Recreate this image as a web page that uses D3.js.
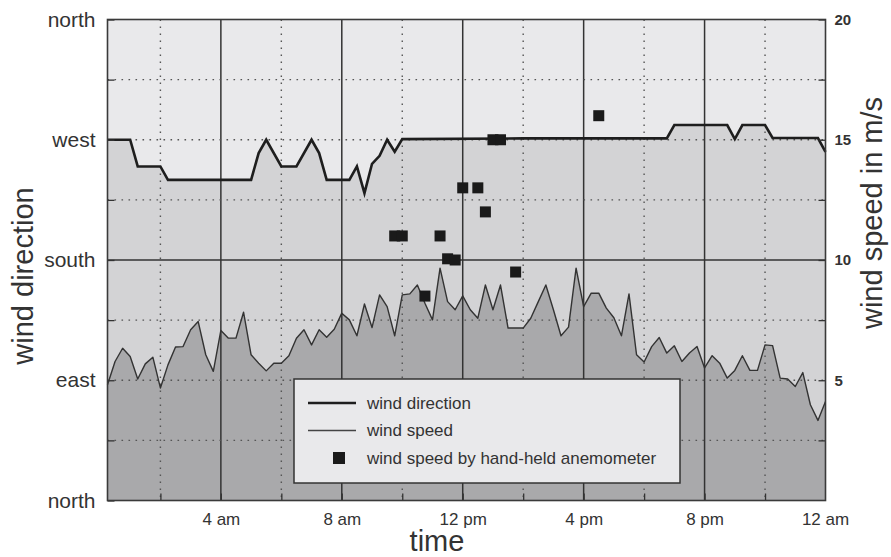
<!DOCTYPE html>
<html>
<head>
<meta charset="utf-8">
<script src="https://cdn.jsdelivr.net/npm/d3@7"></script>
<style>
  body { margin: 0; background: #fff; }
  text { font-family: "Liberation Sans", Arial, sans-serif; fill: #333; }
</style>
</head>
<body>
<div id="chart"></div>
<script>
// wind speed, one reading every 15 minutes starting 00:15 (m/s)
const speedStart = 0.25;
const speedStep = 0.25;
const speedValues = [
  4.81, 5.78, 6.33, 5.99, 5.05, 5.68, 5.96, 4.68, 5.64, 6.38, 6.40, 7.10,
  7.44, 6.06, 5.37, 7.07, 6.75, 6.75, 7.83, 6.06, 5.71, 5.39, 5.71, 5.71,
  6.02, 6.75, 7.10, 6.47, 7.10, 6.79, 7.12, 7.79, 7.51, 6.85, 8.17, 7.19,
  8.55, 8.06, 6.85, 8.55, 8.59, 8.96, 8.20, 7.51, 9.66, 8.27, 7.93, 8.51,
  7.93, 7.58, 8.96, 7.93, 8.96, 7.17, 7.17, 7.17, 7.58, 8.27, 8.96, 7.93,
  6.85, 7.21, 9.66, 8.06, 8.62, 8.62, 8.00, 7.60, 6.85, 8.59, 6.06, 5.76,
  6.40, 6.78, 6.13, 6.43, 5.78, 6.13, 6.40, 5.51, 6.02, 5.71, 5.09, 5.41,
  6.02, 5.41, 5.41, 6.47, 6.44, 5.09, 5.05, 4.74, 5.32, 3.98, 3.33, 4.12
];

// wind direction (degrees, 0 = north) at the break points of the line
const dirTimes = [0.25, 1.0, 1.25, 2.0, 2.25, 5.0, 5.25, 5.5, 6.0, 6.5, 7.0, 7.25, 7.5,
  8.25, 8.5, 8.75, 9.0, 9.25, 9.5, 9.75, 10.0, 14.0, 18.75, 19.0, 20.75, 21.0,
  21.25, 22.0, 22.25, 23.75, 24.0];
const dirValues = [270, 270, 250, 250, 240, 240, 260, 270, 250, 250, 270, 260, 240,
  240, 250, 230, 252, 258, 270, 261, 270.5, 271, 271, 281, 281, 270.5,
  281, 281, 271.3, 271.3, 261];

// hand-held anemometer readings
const anemoTimes = [9.75, 10.0, 10.75, 11.25, 11.5, 11.75, 12.0, 12.5, 12.75, 13.0, 13.25, 13.75, 16.5];
const anemoValues = [11, 11, 8.5, 11, 10.05, 10.0, 13, 13, 12, 15, 15, 9.5, 16];

// axis labels
const dirTicks = [0, 90, 180, 270, 360];
const dirLabels = ["north", "east", "south", "west", "north"];
const timeTicks = [4, 8, 12, 16, 20, 24];
const timeLabels = ["4 am", "8 am", "12 pm", "4 pm", "8 pm", "12 am"];
const speedTicks = [5, 10, 15, 20];

const width = 891, height = 557;
const plotL = 107.5, plotR = 825.5, plotT = 19.5, plotB = 500.5;

const svg = d3.select("#chart").append("svg")
  .attr("width", width)
  .attr("height", height);

const x = d3.scaleLinear().domain([0.25, 24]).range([plotL, plotR]);
const yDir = d3.scaleLinear().domain([0, 360]).range([plotB, plotT]);
const ySpd = d3.scaleLinear().domain([0, 20]).range([plotB, plotT]);

const speed = speedValues.map((v, i) => ({t: speedStart + i * speedStep, v: v}));
const dir = dirTimes.map((t, i) => ({t: t, v: dirValues[i]}));
const anemo = anemoTimes.map((t, i) => ({t: t, v: anemoValues[i]}));

const plot = svg.append("g");

// background bands
plot.append("rect")
  .attr("x", plotL).attr("y", plotT)
  .attr("width", plotR - plotL).attr("height", plotB - plotT)
  .attr("fill", "#e9e9eb");

plot.append("path")
  .datum(dir)
  .attr("fill", "#d3d3d5")
  .attr("d", d3.area().x(d => x(d.t)).y0(plotB).y1(d => yDir(d.v)));

plot.append("path")
  .datum(speed)
  .attr("fill", "#a9a9ab")
  .attr("d", d3.area().x(d => x(d.t)).y0(plotB).y1(d => ySpd(d.v)));

// grid
const grid = plot.append("g");
const halfTimes = d3.range(2, 24, 4);
grid.selectAll("line.vdot")
  .data(halfTimes).enter()
  .append("line")
  .attr("x1", d => x(d)).attr("x2", d => x(d))
  .attr("y1", plotT).attr("y2", plotB)
  .attr("stroke", "#555").attr("stroke-width", 1.4)
  .attr("stroke-dasharray", "1.6,5.4");

grid.selectAll("line.vsolid")
  .data(timeTicks.slice(0, -1)).enter()
  .append("line")
  .attr("x1", d => x(d)).attr("x2", d => x(d))
  .attr("y1", plotT).attr("y2", plotB)
  .attr("stroke", "#333").attr("stroke-width", 1.5);

grid.selectAll("line.hdot")
  .data([2.5, 5, 7.5, 12.5, 15, 17.5]).enter()
  .append("line")
  .attr("x1", plotL).attr("x2", plotR)
  .attr("y1", d => ySpd(d)).attr("y2", d => ySpd(d))
  .attr("stroke", "#555").attr("stroke-width", 1.4)
  .attr("stroke-dasharray", "1.6,5.4");

grid.append("line")
  .attr("x1", plotL).attr("x2", plotR)
  .attr("y1", ySpd(10)).attr("y2", ySpd(10))
  .attr("stroke", "#333").attr("stroke-width", 1.5);

// data lines
plot.append("path")
  .datum(speed)
  .attr("fill", "none")
  .attr("stroke", "#333")
  .attr("stroke-width", 1.4)
  .attr("stroke-linejoin", "round")
  .attr("d", d3.line().x(d => x(d.t)).y(d => ySpd(d.v)));

plot.append("path")
  .datum(dir)
  .attr("fill", "none")
  .attr("stroke", "#1e1e1e")
  .attr("stroke-width", 2.6)
  .attr("d", d3.line().x(d => x(d.t)).y(d => yDir(d.v)));

const sq = 11;
plot.selectAll("rect.anemo")
  .data(anemo).enter()
  .append("rect")
  .attr("class", "anemo")
  .attr("x", d => x(d.t) - sq / 2)
  .attr("y", d => ySpd(d.v) - sq / 2)
  .attr("width", sq).attr("height", sq)
  .attr("fill", "#1a1a1a");

// axes with short inward ticks
const axisLeft = d3.axisLeft(yDir).tickValues(d3.range(0, 361, 45))
  .tickSizeInner(-7).tickSizeOuter(0).tickFormat(d => {
    const k = dirTicks.indexOf(d);
    return k < 0 ? "" : dirLabels[k];
  });
const gl = svg.append("g").attr("transform", `translate(${plotL},0)`).call(axisLeft);
gl.select(".domain").remove();
gl.selectAll(".tick line").attr("stroke", "#333").attr("stroke-width", 1.3);
gl.selectAll(".tick text").attr("x", -12).attr("font-size", 21).attr("fill", "#333");

const axisRight = d3.axisRight(ySpd).tickValues(d3.range(2.5, 20.1, 2.5))
  .tickSizeInner(-7).tickSizeOuter(0).tickFormat(d => speedTicks.includes(d) ? d : "");
const gr = svg.append("g").attr("transform", `translate(${plotR},0)`).call(axisRight);
gr.select(".domain").remove();
gr.selectAll(".tick line").attr("stroke", "#333").attr("stroke-width", 1.3);
gr.selectAll(".tick text").attr("x", 9).attr("font-size", 15).attr("font-weight", "bold").attr("fill", "#222");

const axisBottom = d3.axisBottom(x).tickValues(d3.range(2, 24, 2))
  .tickSizeInner(-7).tickSizeOuter(0).tickFormat(d => {
    const k = timeTicks.indexOf(d);
    return k < 0 ? "" : timeLabels[k];
  });
const gb = svg.append("g").attr("transform", `translate(0,${plotB})`).call(axisBottom);
gb.select(".domain").remove();
gb.selectAll(".tick line").attr("stroke", "#333").attr("stroke-width", 1.3);
gb.selectAll(".tick text").attr("y", 12).attr("font-size", 17).attr("fill", "#333");

// the "12 am" label sits on the right border
gb.append("text")
  .attr("x", plotR).attr("y", 12).attr("dy", "0.71em")
  .attr("text-anchor", "middle").attr("font-size", 17)
  .text(timeLabels[timeLabels.length - 1]);

// frame
svg.append("rect")
  .attr("x", plotL).attr("y", plotT)
  .attr("width", plotR - plotL).attr("height", plotB - plotT)
  .attr("fill", "none").attr("stroke", "#3a3a3a").attr("stroke-width", 1.6);

// legend
const lg = svg.append("g").attr("transform", "translate(294,379)");
lg.append("rect")
  .attr("width", 386).attr("height", 104)
  .attr("fill", "#e9e9eb").attr("stroke", "#333").attr("stroke-width", 1.5);
const legendItems = ["wind direction", "wind speed", "wind speed by hand-held anemometer"];
legendItems.forEach((label, i) => {
  const yy = 24 + i * 27.5;
  if (i === 0) {
    lg.append("line").attr("x1", 14).attr("x2", 62).attr("y1", yy).attr("y2", yy)
      .attr("stroke", "#1e1e1e").attr("stroke-width", 2.6);
  } else if (i === 1) {
    lg.append("line").attr("x1", 14).attr("x2", 62).attr("y1", yy).attr("y2", yy)
      .attr("stroke", "#444").attr("stroke-width", 1.3);
  } else {
    lg.append("rect").attr("x", 39).attr("y", yy - 6).attr("width", 12).attr("height", 12)
      .attr("fill", "#1a1a1a");
  }
  lg.append("text")
    .attr("x", 73).attr("y", yy).attr("dy", "0.35em")
    .attr("font-size", 17)
    .text(label);
});

// axis titles
svg.append("text")
  .attr("transform", "translate(33,276) rotate(-90)")
  .attr("text-anchor", "middle")
  .attr("font-size", 29)
  .text("wind direction");

svg.append("text")
  .attr("transform", "translate(882,213) rotate(-90)")
  .attr("text-anchor", "middle")
  .attr("font-size", 29)
  .text("wind speed in m/s");

svg.append("text")
  .attr("x", 437).attr("y", 551)
  .attr("text-anchor", "middle")
  .attr("font-size", 29)
  .text("time");
</script>
</body>
</html>
